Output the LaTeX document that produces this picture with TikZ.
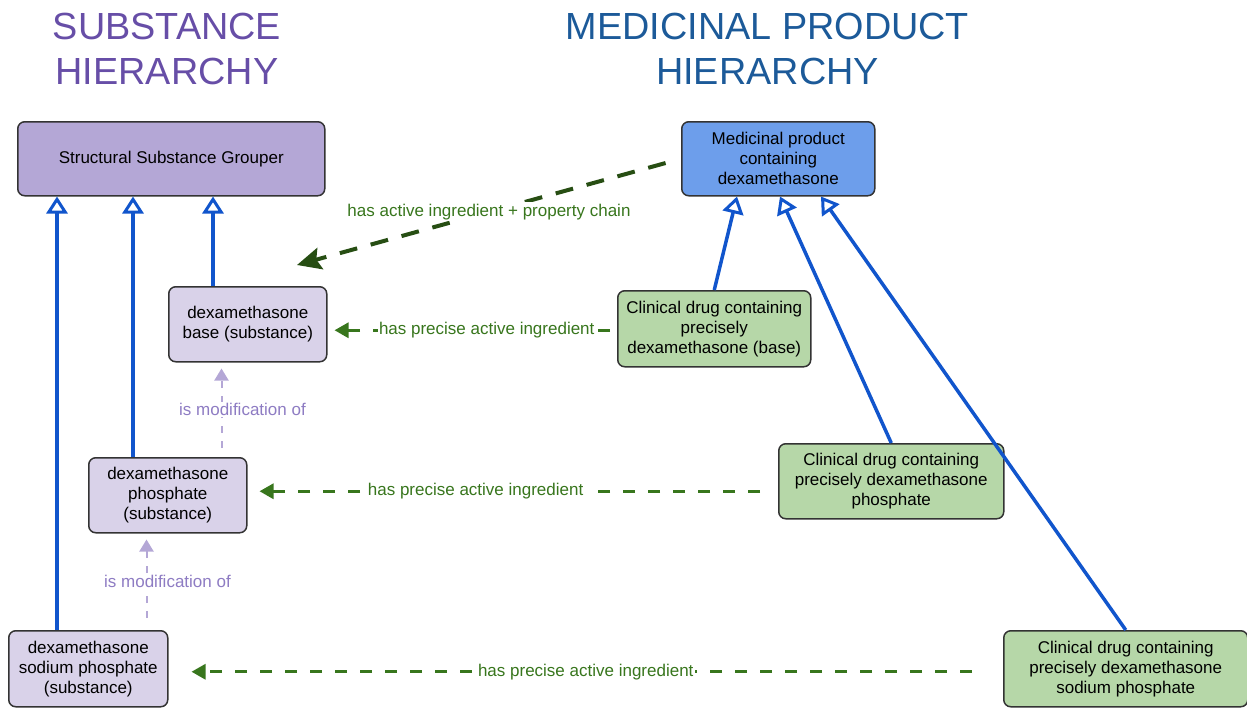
\documentclass[tikz,border=0pt]{standalone}
\usepackage{fontspec}
\setmainfont{Liberation Sans}
\usepackage{xcolor}
\usetikzlibrary{arrows.meta,calc}
\definecolor{SubstTitle}{HTML}{674EA7}
\definecolor{MedTitle}{HTML}{1C5A99}
\definecolor{GrouperFill}{HTML}{B4A7D6}
\definecolor{SubstFill}{HTML}{D9D2E9}
\definecolor{MedFill}{HTML}{6D9EEB}
\definecolor{DrugFill}{HTML}{B6D7A8}
\definecolor{BoxLine}{HTML}{333333}
\definecolor{IsaBlue}{HTML}{1155CC}
\definecolor{IngrGreen}{HTML}{38761D}
\definecolor{ChainGreen}{HTML}{274E13}
\definecolor{ModLine}{HTML}{B4A7D6}
\definecolor{ModText}{HTML}{8E7CC3}
\newcommand{\titlefont}{\fontsize{37.8}{45}\selectfont}
\newcommand{\boxfont}{\fontsize{17}{20}\selectfont}
\tikzset{
  conceptbox/.style={draw=BoxLine, line width=1.5pt, rounded corners=7pt, anchor=north west,
    align=center, inner sep=0pt, font=\boxfont, text=black},
  isa/.style={draw=IsaBlue, line width=3.5pt,
    -{Triangle[length=17pt,width=21pt,fill=white,line width=3pt]}},
  hasingr/.style={draw=IngrGreen, line width=3pt, dash pattern=on 12pt off 13pt,
    -{Triangle[length=14pt,width=15pt]}},
  chain/.style={draw=ChainGreen, line width=4pt, dash pattern=on 18pt off 14pt,
    -{Stealth[length=24pt,width=22pt,inset=4pt]}},
  modof/.style={draw=ModLine, line width=2pt, dash pattern=on 7pt off 8pt,
    -{Triangle[length=12pt,width=14pt]}},
  rellabel/.style={fill=white, inner sep=1.5pt, font=\boxfont}
}

\begin{document}
\begin{tikzpicture}[x=1pt,y=-1pt]
  \useasboundingbox (0,0) rectangle (1247,707);
  % titles
  \node[anchor=north, align=center, inner sep=0pt, font=\titlefont, text=SubstTitle] (substtitle) at (167,12.5) {SUBSTANCE\\HIERARCHY};
  \node[anchor=north, align=center, inner sep=0pt, font=\titlefont, text=MedTitle] (medtitle) at (767.5,12.5) {MEDICINAL PRODUCT\\HIERARCHY};

  % substance side
  \node[conceptbox, fill=GrouperFill, minimum width=307, minimum height=74] (grouper) at (17,121) {Structural Substance Grouper};
  \node[conceptbox, fill=SubstFill, minimum width=158, minimum height=75] (base) at (168,286) {dexamethasone\\base (substance)};
  \node[conceptbox, fill=SubstFill, minimum width=158, minimum height=75] (phos) at (88,457) {dexamethasone\\phosphate\\(substance)};
  \node[conceptbox, fill=SubstFill, minimum width=159, minimum height=76] (sodium) at (8,630) {dexamethasone\\sodium phosphate\\(substance)};

  % medicinal product side
  \node[conceptbox, fill=MedFill, minimum width=193, minimum height=74] (medprod) at (681,121) {Medicinal product\\containing\\dexamethasone};
  \node[conceptbox, fill=DrugFill, minimum width=193, minimum height=76] (cdbase) at (617,290) {Clinical drug containing\\precisely\\dexamethasone (base)};
  \node[conceptbox, fill=DrugFill, minimum width=225, minimum height=75] (cdphos) at (778,443) {Clinical drug containing\\precisely dexamethasone\\phosphate};
  \node[conceptbox, fill=DrugFill, minimum width=244, minimum height=76] (cdsodium) at (1003,630) {Clinical drug containing\\precisely dexamethasone\\sodium phosphate};

  % is-a links
  \foreach \n/\dx in {base/45, phos/45, sodium/49}
    \draw[isa] ([xshift=\dx pt]\n.north west) -- ([xshift=\dx pt]\n.north west |- grouper.south);
  \draw[isa] (cdbase.north) -- ([xshift=56pt]medprod.south west);
  \draw[isa] (cdphos.north) -- ([xshift=99pt]medprod.south west);
  \draw[isa] (cdsodium.north) -- ([xshift=140pt]medprod.south west);

  % is modification of
  \draw[modof, shorten <=9pt, shorten >=6pt] ([xshift=-26pt]phos.north east) -- ([xshift=-26pt]phos.north east |- base.south)
    node[rellabel, text=ModText, pos=0.5, xshift=21pt] {is modification of};
  \draw[modof, shorten <=12pt, shorten >=6pt] ([xshift=-22pt]sodium.north east) -- ([xshift=-22pt]sodium.north east |- phos.south)
    node[rellabel, text=ModText, pos=0.5, xshift=21pt] {is modification of};

  % active ingredient links
  \coordinate (chainend) at (297,265);
  \draw[chain, shorten <=16pt] (medprod.west) -- (chainend)
    node[rellabel, text=IngrGreen, pos=0.5] {has active ingredient + property chain};
  \draw[hasingr, shorten <=7pt, shorten >=7pt] ([yshift=-6pt]cdbase.west |- base.east) -- ([yshift=-6pt]base.east)
    node[rellabel, text=IngrGreen, pos=0.45] {has precise active ingredient};
  \draw[hasingr, shorten <=18pt, shorten >=12pt] ([yshift=4pt]cdphos.west |- phos.east) -- ([yshift=4pt]phos.east)
    node[rellabel, text=IngrGreen, pos=0.57] {has precise active ingredient};
  \draw[hasingr, shorten <=31pt, shorten >=23pt] ([yshift=-3pt]cdsodium.west |- sodium.east) -- ([yshift=-3pt]sodium.east)
    node[rellabel, text=IngrGreen, pos=0.5] {has precise active ingredient};
\end{tikzpicture}
\end{document}
